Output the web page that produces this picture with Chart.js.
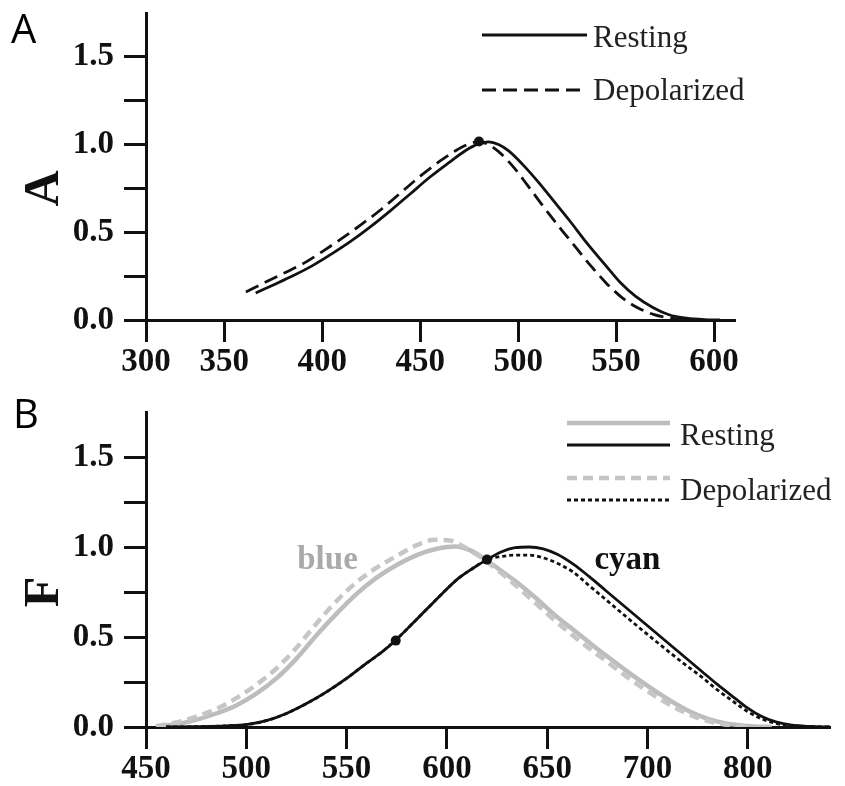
<!DOCTYPE html>
<html>
<head>
<meta charset="utf-8">
<script src="https://cdn.jsdelivr.net/npm/chart.js@4.4.1/dist/chart.umd.min.js"></script>
<style>
html, body { margin: 0; padding: 0; background: #fff; }
#wrap { position: relative; width: 845px; height: 786px; }
.panel { position: absolute; left: 0; width: 845px; }
#pA { top: 0; height: 390px; }
#pB { top: 390px; height: 396px; }
.tag { position: absolute; font-family: "Open Sans", "Noto Sans", sans-serif; font-size: 40px; line-height: 1; color: #000; }
</style>
</head>
<body>
<div id="wrap">
	<div class="panel" id="pA"><canvas id="chartA"></canvas></div>
	<div class="panel" id="pB"><canvas id="chartB"></canvas></div>
	<div class="tag" style="left:11px;top:8px">A</div>
	<div class="tag" style="left:13px;top:393px">B</div>
</div>
<script>
// 面板A：吸收光谱
const aRestX = [366, 375, 385, 395, 405, 415, 425, 435, 445, 455, 465, 473, 480, 485, 490, 495, 502, 510, 518, 526, 535, 544, 552, 560, 569, 577, 586, 595, 603];
const aRestY = [0.154, 0.2, 0.252, 0.31, 0.378, 0.452, 0.535, 0.625, 0.72, 0.815, 0.9, 0.965, 1.005, 1.015, 1.0, 0.965, 0.89, 0.79, 0.68, 0.57, 0.44, 0.32, 0.215, 0.135, 0.07, 0.03, 0.01, 0.002, 0];
const aDepoX = [361, 370, 380, 390, 400, 410, 420, 430, 440, 450, 460, 468, 474, 479, 484, 490, 497, 505, 513, 521, 529, 537, 545, 553, 561, 569, 577, 586, 595];
const aDepoY = [0.16, 0.21, 0.265, 0.32, 0.39, 0.465, 0.545, 0.63, 0.725, 0.82, 0.905, 0.965, 1.0, 1.015, 1.005, 0.96, 0.88, 0.765, 0.645, 0.53, 0.42, 0.31, 0.21, 0.128, 0.07, 0.032, 0.012, 0.003, 0];
const aDotX = [480];
const aDotY = [1.018];
const aTickX = [310, 350, 400, 450, 500, 550, 600];
const aTickLabels = ['300', '350', '400', '450', '500', '550', '600'];

// 面板B：荧光光谱
const bRestBlueX = [455, 465, 475, 485, 495, 505, 515, 525, 535, 545, 555, 565, 575, 585, 595, 604, 612, 620, 628, 636, 645, 654, 663, 672, 681, 690, 699, 708, 717, 726, 735, 744, 753, 762];
const bRestBlueY = [0.003, 0.015, 0.04, 0.075, 0.12, 0.185, 0.27, 0.38, 0.51, 0.63, 0.74, 0.83, 0.9, 0.955, 0.99, 1.003, 0.98, 0.925, 0.86, 0.795, 0.71, 0.62, 0.54, 0.46, 0.383, 0.308, 0.237, 0.17, 0.11, 0.062, 0.03, 0.012, 0.003, 0];
const bDepoBlueX = [455, 465, 475, 485, 495, 505, 515, 525, 535, 545, 555, 565, 575, 585, 594, 602, 610, 618, 626, 634, 643, 652, 661, 670, 679, 688, 697, 706, 715, 724, 733, 742, 751];
const bDepoBlueY = [0.005, 0.025, 0.057, 0.1, 0.16, 0.235, 0.325, 0.44, 0.575, 0.7, 0.805, 0.885, 0.95, 1.01, 1.04, 1.035, 0.99, 0.935, 0.865, 0.79, 0.7, 0.61, 0.525, 0.445, 0.37, 0.293, 0.222, 0.157, 0.1, 0.055, 0.025, 0.008, 0];
const bRestCyanX = [460, 475, 490, 500, 510, 520, 530, 540, 550, 560, 568, 575, 582, 590, 598, 606, 613, 620, 627, 634, 641, 648, 655, 663, 671, 679, 687, 695, 703, 711, 719, 727, 735, 743, 750, 757, 764, 772, 781, 791];
const bRestCyanY = [0, 0.002, 0.006, 0.013, 0.035, 0.075, 0.13, 0.195, 0.27, 0.355, 0.42, 0.488, 0.565, 0.655, 0.745, 0.828, 0.882, 0.93, 0.972, 0.996, 1.0, 0.99, 0.96, 0.905, 0.835, 0.76, 0.685, 0.61, 0.535, 0.46, 0.385, 0.31, 0.235, 0.165, 0.105, 0.058, 0.028, 0.01, 0.003, 0];
const bDepoCyanX = [460, 475, 490, 500, 510, 520, 530, 540, 550, 560, 568, 575, 582, 590, 598, 606, 613, 620, 627, 634, 641, 648, 655, 663, 671, 679, 687, 695, 703, 711, 719, 727, 735, 743, 750, 757, 764, 772, 781, 791];
const bDepoCyanY = [0, 0.002, 0.006, 0.013, 0.035, 0.075, 0.13, 0.195, 0.27, 0.355, 0.42, 0.488, 0.565, 0.655, 0.745, 0.828, 0.882, 0.93, 0.947, 0.955, 0.955, 0.94, 0.91, 0.86, 0.785, 0.71, 0.635, 0.56, 0.487, 0.415, 0.345, 0.278, 0.205, 0.14, 0.085, 0.045, 0.02, 0.007, 0.002, 0];
const bDotX = [574.5, 620];
const bDotY = [0.48, 0.93];
const bTickX = [450, 500, 550, 600, 650, 700, 750];
const bTickLabels = ['450', '500', '550', '600', '650', '700', '800'];

// 纵轴刻度（两个面板相同）
const yTickVals = [0, 0.25, 0.5, 0.75, 1, 1.25, 1.5];
const yTickLabels = ['0.0', '', '0.5', '', '1.0', '', '1.5'];

const SERIF = '"Liberation Serif", "Times New Roman", serif';
const INK = '#111';

function pts(xs, ys) {
	return xs.map((x, i) => ({ x: x, y: ys[i] }));
}

// 图例（线段 + 文字）
const panelLegend = {
	id: 'panelLegend',
	afterDraw(chart, args, opts) {
		if (!opts.rows) return;
		const ctx = chart.ctx;
		ctx.save();
		opts.rows.forEach(row => {
			let label = '';
			row.lines.forEach(l => {
				const ds = chart.data.datasets[l.set];
				label = ds.label;
				ctx.beginPath();
				ctx.setLineDash(ds.borderDash || []);
				ctx.lineWidth = ds.borderWidth;
				ctx.strokeStyle = ds.borderColor;
				ctx.moveTo(opts.x0, l.y);
				ctx.lineTo(opts.x1, l.y);
				ctx.stroke();
			});
			ctx.setLineDash([]);
			ctx.font = '31px ' + SERIF;
			ctx.fillStyle = '#222';
			ctx.textAlign = 'left';
			ctx.textBaseline = 'alphabetic';
			ctx.fillText(label, opts.tx, row.base);
		});
		ctx.restore();
	}
};

// 纵轴标题和曲线标注
const panelText = {
	id: 'panelText',
	afterDraw(chart, args, opts) {
		const ctx = chart.ctx;
		const xs = chart.scales.x, ys = chart.scales.y;
		ctx.save();
		ctx.font = 'bold 50px ' + SERIF;
		ctx.fillStyle = INK;
		ctx.textAlign = 'center';
		ctx.textBaseline = 'middle';
		ctx.translate(opts.titleX, ys.getPixelForValue(0.75));
		ctx.rotate(-Math.PI / 2);
		ctx.fillText(opts.title, 0, 0);
		ctx.restore();
		(opts.notes || []).forEach(n => {
			ctx.save();
			ctx.font = 'bold 33px ' + SERIF;
			ctx.fillStyle = n.color;
			ctx.textAlign = 'center';
			ctx.textBaseline = 'alphabetic';
			ctx.fillText(n.text, xs.getPixelForValue(n.x), ys.getPixelForValue(n.y));
			ctx.restore();
		});
	}
};

function xAxis(min, max, vals, labels, h) {
	return {
		type: 'linear',
		min: min,
		max: max,
		afterBuildTicks: s => { s.ticks = vals.map(v => ({ value: v })); },
		afterFit: s => { s.height = h; s.paddingLeft = 0; s.paddingRight = 0; },
		ticks: { autoSkip: false, maxRotation: 0, padding: 1, color: INK, font: { family: SERIF, size: 33, weight: 'bold' }, callback: (v, i) => labels[i] },
		grid: { drawOnChartArea: false, tickLength: 22, tickWidth: 3, color: INK },
		border: { color: INK, width: 3 }
	};
}

function yAxis() {
	return {
		min: 0,
		max: 1.75,
		afterBuildTicks: s => { s.ticks = yTickVals.map(v => ({ value: v })); },
		afterFit: s => { s.width = 146; s.paddingTop = 0; s.paddingBottom = 0; },
		ticks: { autoSkip: false, padding: 10, color: INK, font: { family: SERIF, size: 33, weight: 'bold' }, callback: (v, i) => yTickLabels[i] },
		grid: { drawOnChartArea: false, tickLength: 22, tickWidth: 3, color: INK },
		border: { color: INK, width: 3 }
	};
}

function lineSet(label, xs, ys, color, width, dash, order) {
	return {
		label: label,
		data: pts(xs, ys),
		borderColor: color,
		borderWidth: width,
		borderDash: dash,
		pointRadius: 0,
		cubicInterpolationMode: 'monotone',
		fill: false,
		order: order
	};
}

function dotSet(xs, ys) {
	return {
		label: 'dots',
		data: pts(xs, ys),
		showLine: false,
		pointRadius: 5,
		pointBackgroundColor: INK,
		pointBorderWidth: 0,
		order: 0
	};
}

const common = {
	responsive: true,
	maintainAspectRatio: false,
	animation: false,
	events: []
};

window.addEventListener('load', function() {
	new Chart(document.getElementById('chartA'), {
		type: 'line',
		data: {
			datasets: [
				lineSet('Resting', aRestX, aRestY, INK, 2.8, [], 2),
				lineSet('Depolarized', aDepoX, aDepoY, INK, 2.8, [14, 7], 1),
				dotSet(aDotX, aDotY)
			]
		},
		options: Object.assign({}, common, {
			layout: { padding: { top: 13, right: 110, left: 0, bottom: 0 } },
			scales: { x: xAxis(310, 610.7, aTickX, aTickLabels, 70), y: yAxis() },
			plugins: {
				legend: { display: false },
				tooltip: { enabled: false },
				panelLegend: { x0: 482, x1: 587, tx: 593, rows: [
					{ lines: [{ set: 0, y: 35 }], base: 47 },
					{ lines: [{ set: 1, y: 90 }], base: 100 }
				] },
				panelText: { title: 'A', titleX: 45 }
			}
		}),
		plugins: [panelLegend, panelText]
	});

	new Chart(document.getElementById('chartB'), {
		type: 'line',
		data: {
			datasets: [
				lineSet('Resting', bRestBlueX, bRestBlueY, '#bdbdbd', 4.5, [], 4),
				lineSet('Resting', bRestCyanX, bRestCyanY, INK, 2.8, [], 2),
				lineSet('Depolarized', bDepoBlueX, bDepoBlueY, '#c6c6c6', 4.5, [10, 6], 3),
				lineSet('Depolarized', bDepoCyanX, bDepoCyanY, INK, 2.8, [4, 3], 1),
				dotSet(bDotX, bDotY)
			]
		},
		options: Object.assign({}, common, {
			layout: { padding: { top: 22, right: 15, left: 0, bottom: 0 } },
			scales: { x: xAxis(450, 791, bTickX, bTickLabels, 59), y: yAxis() },
			plugins: {
				legend: { display: false },
				tooltip: { enabled: false },
				panelLegend: { x0: 567, x1: 670, tx: 680, rows: [
					{ lines: [{ set: 0, y: 33 }, { set: 1, y: 55 }], base: 55 },
					{ lines: [{ set: 2, y: 88 }, { set: 3, y: 110 }], base: 110 }
				] },
				panelText: { title: 'F', titleX: 45, notes: [
					{ text: 'blue', x: 540.5, y: 0.88, color: '#aaaaaa' },
					{ text: 'cyan', x: 690, y: 0.88, color: INK }
				] }
			}
		}),
		plugins: [panelLegend, panelText]
	});
});
</script>
</body>
</html>
